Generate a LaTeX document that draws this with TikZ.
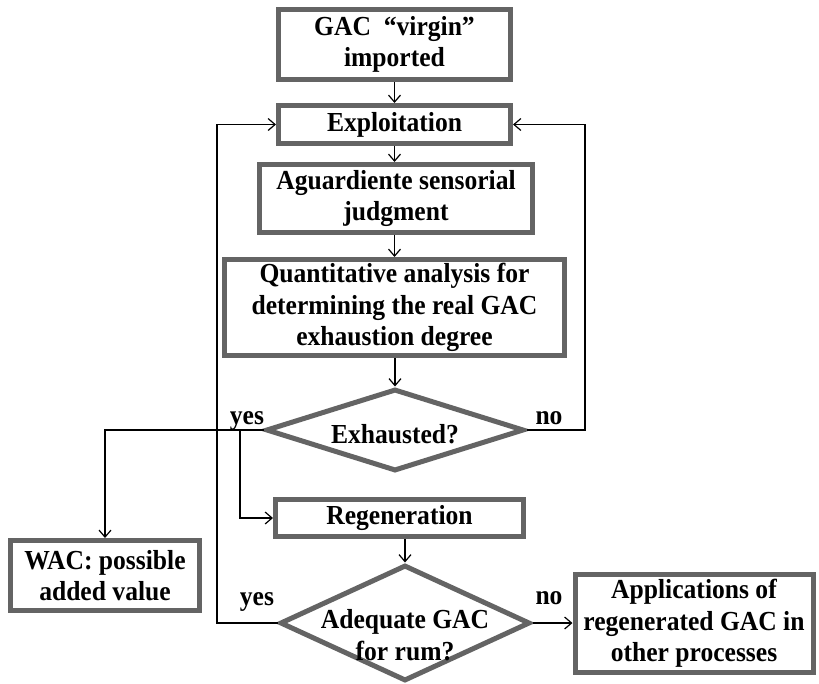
\documentclass[tikz,border=0pt]{standalone}
\usepackage{fontspec}
\setmainfont[FakeStretch=0.93]{Liberation Serif}
\usetikzlibrary{shapes.geometric,arrows.meta}
\definecolor{frame}{RGB}{100,100,100}
\begin{document}
\begin{tikzpicture}[x=1pt,y=-1pt,
  every node/.style={font=\fontsize{27.5}{31.5}\selectfont\bfseries, align=center, inner sep=0pt},
  procbox/.style={draw=frame, line width=5pt, fill=white, rectangle},
  decision/.style={draw=frame, line width=5pt, fill=white, diamond},
  flow/.style={line width=1.2pt, -{Straight Barb[length=7pt,width=12pt]}},
  tag/.style={anchor=base}
]
\useasboundingbox (0,0) rectangle (819,683);

% process boxes
\node[procbox, minimum width=232, minimum height=70] (gac) at (394.5,44.5) {GAC~~“virgin”\\imported};
\node[procbox, minimum width=232, minimum height=38] (exp) at (394.5,124.5) {Exploitation};
\node[procbox, minimum width=273, minimum height=68] (agu) at (396,198.5) {Aguardiente sensorial\\judgment};
\node[procbox, minimum width=340, minimum height=96] (qua) at (394.5,307.5) {Quantitative analysis for\\determining the real GAC\\exhaustion degree};
\node[procbox, minimum width=248, minimum height=37] (reg) at (399.5,518) {Regeneration};
\node[procbox, minimum width=189, minimum height=70] (wac) at (105,575.5) {WAC: possible\\added value};
\node[procbox, minimum width=238, minimum height=98] (app) at (694,623.5) {Applications of\\regenerated GAC in\\other processes};

% decisions
\node[decision, minimum width=258, minimum height=82] (exh) at (395,430) {};
\node at (395,434) {Exhausted?};
\node[decision, minimum width=250, minimum height=116] (adq) at (405,623) {};
\node at (405,635) {Adequate GAC\\for rum?};

% bend points of the return lines
\coordinate (lx) at (217,623);
\coordinate (rx) at (585,430);
\coordinate (wx) at (105,430);
\coordinate (bx) at (240,430);

% main sequence
\draw[flow] (gac.south) -- (exp.north);
\draw[flow] (exp.south) -- (exp.south |- agu.north);
\draw[flow] (agu.south -| exp.south) -- (exp.south |- qua.north);
\draw[flow] (qua.south -| exh.north) -- (exh.north);
\draw[flow] (reg.south -| adq.north) -- (adq.north);
\draw[flow] (adq.east) -- (app.west |- adq.east);

% Exhausted? branches
\draw[flow] (exh.east) -- (rx) |- (exp.east);
\draw[flow] (exh.west) -- (wx) -- (wac.north);
\draw[flow] (bx) |- (reg.west);

% Adequate GAC? yes: back to exploitation
\draw[flow] (adq.west) -- (lx) |- (exp.west);

% branch labels
\node[tag] at (247,424) {yes};
\node[tag] at (549,424) {no};
\node[tag] at (257,605) {yes};
\node[tag] at (549,604) {no};
\end{tikzpicture}
\end{document}
